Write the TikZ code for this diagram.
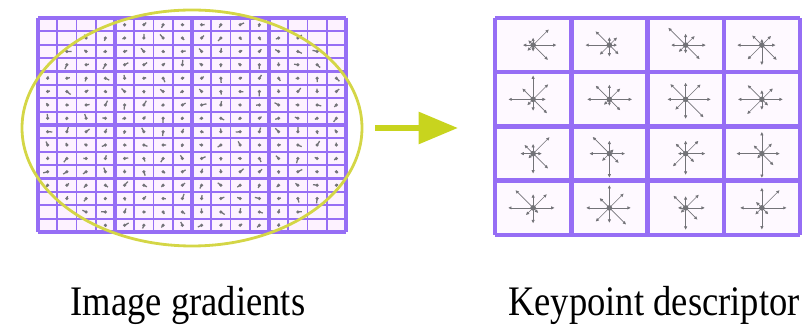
\documentclass[tikz,border=0pt]{standalone}
\usepackage{fontspec}
\setmainfont{Liberation Serif}
\usetikzlibrary{arrows.meta}

\definecolor{gridpurple}{RGB}{150,110,245}
\definecolor{cellpink}{RGB}{253,242,255}
\definecolor{ringyellow}{RGB}{212,214,70}
\definecolor{arrowyellow}{RGB}{200,212,30}
\definecolor{grad}{RGB}{115,115,120}

\tikzset{
  thingrid/.style={gridpurple, line width=1.3pt},
  thickgrid/.style={gridpurple, line width=2.4pt},
  descgrid/.style={gridpurple, line width=3.2pt},
  gradmark/.style={grad, line width=0.9pt},
  histarrow/.style={grad, line width=0.5pt, -{Latex[length=2.5pt,width=2.5pt]}},
  caption/.style={font=\fontsize{26}{30}\selectfont, anchor=base}
}

\begin{document}
\begin{tikzpicture}[x=0.025cm, y=-0.025cm]
  \useasboundingbox (0,0) rectangle (805,326);
  \pgfmathsetseed{4711}

  % image gradients
  \fill[cellpink] (38,18) rectangle (346,232);
  \foreach \i in {0,...,15}
    \foreach \j in {0,...,15} {
      \pgfmathsetmacro\cx{38+(\i+0.5)*19.25}
      \pgfmathsetmacro\cy{18+(\j+0.5)*13.375}
      \pgfmathtruncatemacro\inside{((\cx-192)/168)^2+((\cy-128)/116)^2<1}
      \ifnum\inside=1
        \pgfmathsetmacro\ang{rnd*360}
        \pgfmathsetmacro\len{1.5+rnd*3.5}
        \fill[grad] (\cx,\cy) circle (1.8);
        \draw[gradmark] (\cx,\cy) -- ++(\ang:\len);
      \fi
    }
  \foreach \i in {0,...,16} {
    \draw[thingrid] ({38+\i*19.25},18) -- ({38+\i*19.25},232);
    \draw[thingrid] (38,{18+\i*13.375}) -- (346,{18+\i*13.375});
  }
  \foreach \i in {0,4,...,16} {
    \draw[thickgrid] ({38+\i*19.25},18) -- ({38+\i*19.25},232);
    \draw[thickgrid] (38,{18+\i*13.375}) -- (346,{18+\i*13.375});
  }
  \draw[ringyellow, line width=2pt] (192,128) ellipse (170 and 118);

  % keypoint descriptor
  \fill[cellpink!50!white] (495,18) rectangle (800,235);
  \foreach \i in {0,...,3}
    \foreach \j in {0,...,3} {
      \pgfmathsetmacro\cx{495+(\i+0.5)*76.25}
      \pgfmathsetmacro\cy{18+(\j+0.5)*54.25}
      \foreach \k in {0,45,...,315} {
        \pgfmathsetmacro\len{6+rnd*20}
        \draw[histarrow] (\cx,\cy) -- ++(\k:\len);
      }
      \fill[grad] (\cx,\cy) circle (2.8);
    }
  \foreach \i in {0,...,4} {
    \draw[descgrid] ({495+\i*76.25},18) -- ({495+\i*76.25},235);
    \draw[descgrid] (495,{18+\i*54.25}) -- (800,{18+\i*54.25});
  }

  \coordinate (from) at (375,128);
  \coordinate (to) at (458,128);
  \draw[arrowyellow, line width=4.3pt, -{Triangle[length=28pt,width=22pt]}] (from) -- (to);

  \node[caption] (imgcap) at (188,316) {\scalebox{1}[1.15]{Image gradients}};
  \node[caption] (keycap) at (654,316) {\scalebox{1}[1.15]{Keypoint descriptor}};
\end{tikzpicture}
\end{document}
